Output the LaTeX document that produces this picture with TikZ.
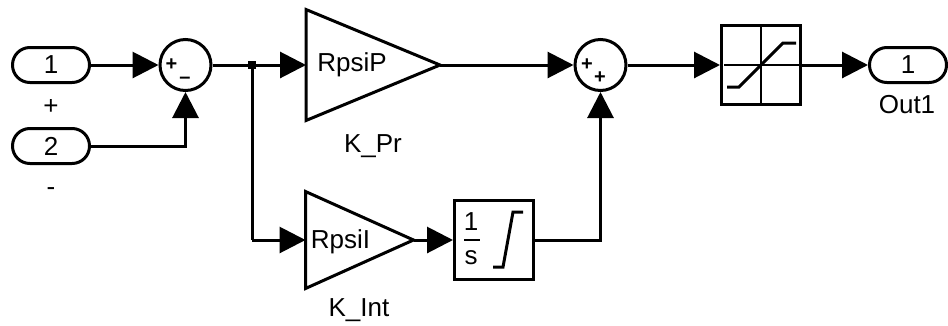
\documentclass[tikz,border=0pt]{standalone}
\usepackage{fontspec}
\setmainfont{Liberation Sans}
\usetikzlibrary{arrows.meta,shapes.geometric}
\tikzset{
  wire/.style={line width=3pt,-{Triangle[length=26pt,width=26pt]}},
  plain/.style={line width=3pt},
  port/.style={draw,line width=3pt,minimum width=77pt,minimum height=35pt,rounded corners=17.4pt,inner sep=0pt,outer sep=1.5pt},
  block/.style={draw,line width=3pt,minimum width=79pt,minimum height=79pt,inner sep=0pt,outer sep=1.5pt},
  sumc/.style={draw,line width=3pt,circle,minimum size=51pt,inner sep=0pt,outer sep=1.5pt},
  gain/.style={draw,line width=3pt,isosceles triangle,isosceles triangle stretches,shape border rotate=0,inner sep=0pt,outer sep=0pt,anchor=lower side},
  txt/.style={inner sep=0pt,font=\fontsize{26}{30}\selectfont},
  sgn/.style={inner sep=0pt,font=\fontsize{20}{22}\selectfont\bfseries},
  icon/.style={line width=3pt,line join=miter}
}
\begin{document}
\begin{tikzpicture}[x=1pt,y=-1pt]
\useasboundingbox (0,0) rectangle (948,325);
\fill[white] (0,0) rectangle (948,325);
% blocks
\node[port] (in1) at (51,65) {\fontsize{26}{30}\selectfont 1};
\node[port] (in2) at (51,146) {\fontsize{26}{30}\selectfont 2};
\node[port] (out) at (908,65) {\fontsize{26}{30}\selectfont 1};
\node[sumc] (s1) at (185.5,65) {};
\node[sumc] (s2) at (600.5,65) {};
\node[block] (sat) at (761,65) {};
\node[block] (int) at (494,240) {};
\node[gain,minimum width=111pt,minimum height=134pt] (gp) at (306,65) {};
\node[gain,minimum width=97pt,minimum height=108pt] (gi) at (305.5,240) {};
\coordinate (j) at (252,65);
\coordinate (c2) at (s2.south |- int.east);
% labels
\node[txt] at (51,107) {+};
\node[txt] at (51,191.5) {-};
\node[txt] at (907,105) {Out1};
\node[txt] at (373,146) {K\_Pr};
\node[txt] at (359,310) {K\_Int};
\node[txt] at (352,65) {RpsiP};
\node[txt] at (340.5,242) {RpsiI};
\node[sgn] at (171.5,65) {+};
\node[sgn] at (185,80) {–};
\node[sgn] at (587,65) {+};
\node[sgn] at (600,78) {+};
% integrator icon
\node[txt] at (471,222) {1};
\node[txt] at (471,258) {s};
\draw[line width=2.5pt] (464,240) -- (480,240);
\draw[icon] (493,267) -- (503,267) -- (513,212) -- (523,212);
% saturation icon
\draw[line width=2.5pt] (761,27) -- (761,103);
\draw[line width=2.5pt] (724,65) -- (799,65);
\draw[icon] (727,87) -- (739,87) -- (783,43) -- (796,43);
% connectors
\draw[wire] (in1.east) -- (s1.west);
\draw[wire] (in2.east) -| (s1.south);
\draw[wire] (s1.east) -- (gp.lower side);
\draw[plain] (j) -- (j |- gi.lower side) coordinate (jb);
\draw[wire] (jb) -- (gi.lower side);
\fill ([shift={(-4,-4)}]j) rectangle ([shift={(4,4)}]j);
\draw[wire] (gp.apex) -- (s2.west);
\draw[wire] (gi.apex) -- (int.west);
\draw[wire] (int.east) -- (c2) -- (s2.south);
\draw[wire] (s2.east) -- (sat.west);
\draw[wire] (sat.east) -- (out.west);
\end{tikzpicture}
\end{document}
